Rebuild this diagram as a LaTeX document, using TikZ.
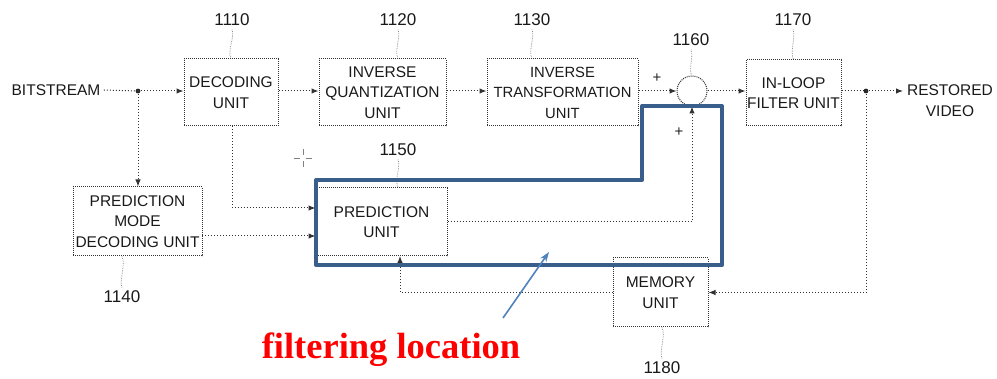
\documentclass[tikz,border=0pt]{standalone}
\usepackage{fontspec}
\setmainfont{Liberation Sans}
\newfontfamily\redserif{Liberation Serif}
\usetikzlibrary{arrows.meta}
\definecolor{boxblue}{RGB}{58,94,140}
\definecolor{arrblue}{RGB}{79,129,189}
\definecolor{lineg}{RGB}{50,50,50}
\tikzset{
  unitbox/.style={draw=lineg, densely dotted, line width=1pt, align=center, font=\fontsize{15.5}{20.5}\selectfont, inner sep=0.5pt, text=black!90},
  conn/.style={draw=lineg, dotted, line width=1pt, -{Latex[length=7pt,width=5.5pt]}},
  plain/.style={draw=lineg, dotted, line width=1pt},
  refnum/.style={font=\fontsize{17}{17}\selectfont, text=black!90},
  leader/.style={draw=gray, densely dotted, line width=0.7pt},
  plus/.style={font=\fontsize{15}{15}\selectfont, text=black!85}
}
\begin{document}
\begin{tikzpicture}[x=1pt,y=-1pt]
\useasboundingbox (0,0) rectangle (997,379);
% units
\node[unitbox, minimum width=94pt, minimum height=67pt] (dec) at (231,92.5) {DECODING\\UNIT};
\node[unitbox, minimum width=127pt, minimum height=67pt] (iq) at (382.5,92.5) {INVERSE\\QUANTIZATION\\UNIT};
\node[unitbox, minimum width=151pt, minimum height=67pt, font=\fontsize{14.8}{20.5}\selectfont] (it) at (562.5,92.5) {INVERSE\\TRANSFORMATION\\UNIT};
\node[draw=lineg, densely dotted, line width=1pt, circle, minimum size=30pt, inner sep=0pt] (add) at (692,91) {};
\node[unitbox, minimum width=95pt, minimum height=66pt] (flt) at (793.5,93) {IN-LOOP\\FILTER UNIT};
\node[unitbox, minimum width=129pt, minimum height=69pt] (pmd) at (137.5,221.5) {PREDICTION\\MODE\\DECODING UNIT};
\node[unitbox, minimum width=131pt, minimum height=68pt] (pred) at (381.5,222) {PREDICTION\\UNIT};
\node[unitbox, minimum width=95pt, minimum height=69pt] (mem) at (660.5,292.5) {MEMORY\\UNIT};
% texts
\node[font=\fontsize{15.5}{15.5}\selectfont, text=black!90] (bits) at (56,90) {BITSTREAM};
\node[font=\fontsize{15.5}{21}\selectfont, align=center, text=black!90] (rest) at (950,101) {RESTORED\\VIDEO};
% reference numbers
\node[refnum] (n1110) at (232,20) {1110};
\node[refnum] (n1120) at (398,20) {1120};
\node[refnum] (n1130) at (532,20) {1130};
\node[refnum] (n1160) at (691,40) {1160};
\node[refnum] (n1170) at (793,20) {1170};
\node[refnum] (n1150) at (398,150) {1150};
\node[refnum] (n1140) at (122,297) {1140};
\node[refnum] (n1180) at (662,368) {1180};
% leaders
\draw[leader] (n1110.south) .. controls +(3,8) and +(-4,-8) .. (dec.north);
\draw[leader] (n1120.south) .. controls +(3,8) and +(-4,-8) .. (iq.north -| n1120.south);
\draw[leader] (n1130.south) .. controls +(3,8) and +(-4,-8) .. (it.north -| n1130.south);
\draw[leader] (n1160.south) .. controls +(3,5) and +(-4,-5) .. (add.north);
\draw[leader] (n1170.south) .. controls +(3,8) and +(-4,-8) .. (flt.north);
\draw[leader] (n1150.south) .. controls +(3,8) and +(-4,-8) .. (pred.north -| n1150.south);
\draw[leader] (n1140.north) .. controls +(-3,-8) and +(4,8) .. (pmd.south -| n1140.north);
\draw[leader] (n1180.north) .. controls +(-3,-8) and +(4,8) .. (mem.south -| n1180.north);
% junctions
\coordinate (j1) at (138,91);
\coordinate (j2) at (866,91);
\fill[black!85] (j1) circle (2.4pt);
\fill[black!85] (j2) circle (2.4pt);
% connectors
\draw[plain] (bits.east) -- (j1);
\draw[conn] (j1) -- (j1 -| dec.west);
\draw[conn] (j1) -- (pmd.north -| j1);
\draw[conn] (dec.east |- j1) -- (iq.west |- j1);
\draw[conn] (iq.east |- j1) -- (it.west |- j1);
\draw[conn] (it.east |- j1) -- (add.west);
\draw[conn] (add.east) -- (flt.west |- add.east);
\draw[plain] (flt.east |- j2) -- (j2);
\coordinate (rin) at (903,91);
\draw[conn] (j2) -- (rin);
\draw[conn] (j2) -- (j2 |- mem.east) -- (mem.east);
\coordinate (pb) at (400,256);
\draw[conn] (mem.west) -- (pb |- mem.west) -- (pb);
\draw[conn] (pred.east) -- (add.south |- pred.east) -- (add.south);
\coordinate (d1) at (232,208);
\draw[conn] (d1 |- dec.south) -- (d1) -- (d1 -| pred.west);
\coordinate (d2) at (202,236);
\draw[conn] (d2) -- (d2 -| pred.west);
% plus signs
\node[plus] (p1) at (657,78) {+};
\node[plus] (p2) at (679,132) {+};
% cursor artifact
\draw[gray, line width=0.6pt] (303,149) -- (303,155) (303,161) -- (303,167) (294,158) -- (300,158) (306,158) -- (312,158);
% filtering location outline
\draw[boxblue, line width=4pt, line join=round] (316,180) -- (642,180) -- (642,106) -- (722,106) -- (722,265) -- (316,265) -- cycle;
\coordinate (fa) at (503,318);
\coordinate (fb) at (549,252);
\draw[arrblue, line width=1.6pt, -{Stealth[length=10pt,width=7pt]}] (fa) -- (fb);
\node[font=\redserif\bfseries\fontsize{36.5}{36.5}\selectfont, text=red] (flab) at (391,350) {filtering location};
\end{tikzpicture}
\end{document}
